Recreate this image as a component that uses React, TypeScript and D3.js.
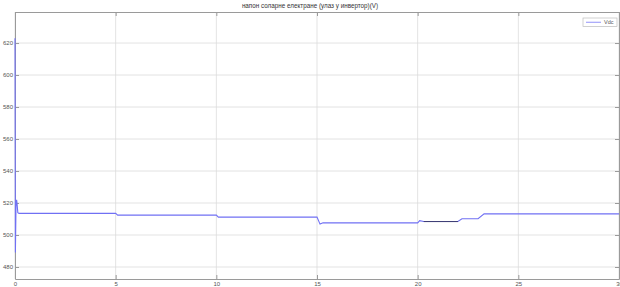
import React, { useEffect, useRef } from "react";
import * as d3 from "d3";

// time (s) and Vdc (V)
const times = [0, 0.02, 0.05, 0.08, 0.1, 0.14, 0.2, 5.0, 5.1, 10.0, 10.1, 15.0, 15.15, 15.3, 20.0, 20.1, 20.3, 22.0, 22.2, 23.0, 23.3, 30];
const vdc = [623, 489, 518, 522, 520, 514, 513.5, 513.5, 512.4, 512.4, 511.2, 511.2, 506.8, 507.6, 507.6, 509, 508.4, 508.4, 510.2, 510.2, 513.2, 513.2];
const xTicks = [0, 5, 10, 15, 20, 25, 30];
const yTicks = [480, 500, 520, 540, 560, 580, 600, 620];
const title = "напон соларне електране (улаз у инвертор)(V)";
const seriesName = "Vdc";

export default function App() {
  const ref = useRef<SVGSVGElement | null>(null);

  useEffect(() => {
    const width = 620;
    const height = 287;
    const margin = { top: 12, right: 1, bottom: 8, left: 15 };
    const svg = d3.select(ref.current);
    svg.selectAll("*").remove();

    const x = d3.scaleLinear().domain([0, 30]).range([margin.left, width - margin.right]);
    const y = d3.scaleLinear().domain([472.5, 639.4]).range([height - margin.bottom, margin.top]);
    const font = "Liberation Sans, Arial, sans-serif";

    // grid
    svg.append("g")
      .selectAll("line.gx")
      .data(xTicks)
      .join("line")
      .attr("x1", (d) => x(d)).attr("x2", (d) => x(d))
      .attr("y1", y.range()[1]).attr("y2", y.range()[0])
      .attr("stroke", "#dcdcdc").attr("stroke-width", 0.8);
    svg.append("g")
      .selectAll("line.gy")
      .data(yTicks)
      .join("line")
      .attr("x1", x.range()[0]).attr("x2", x.range()[1])
      .attr("y1", (d) => y(d)).attr("y2", (d) => y(d))
      .attr("stroke", "#dcdcdc").attr("stroke-width", 0.8);

    // axes on all sides (MATLAB box style)
    const styleAxis = (g: d3.Selection<SVGGElement, unknown, null, undefined>) => {
      g.select(".domain").attr("stroke", "#9a9a9a");
      g.selectAll(".tick line").attr("stroke", "#9a9a9a");
      g.selectAll(".tick text").attr("fill", "#555").attr("font-size", 6).attr("font-family", font);
    };
    svg.append("g")
      .attr("transform", `translate(0,${y.range()[0]})`)
      .call(d3.axisBottom(x).tickValues(xTicks).tickSize(-4).tickPadding(3).tickSizeOuter(0))
      .call(styleAxis);
    svg.append("g")
      .attr("transform", `translate(0,${y.range()[1]})`)
      .call(d3.axisTop(x).tickValues(xTicks).tickSize(-4).tickFormat(() => "").tickSizeOuter(0))
      .call(styleAxis);
    svg.append("g")
      .attr("transform", `translate(${x.range()[0]},0)`)
      .call(d3.axisLeft(y).tickValues(yTicks).tickSize(-4).tickPadding(2).tickSizeOuter(0))
      .call(styleAxis);
    svg.append("g")
      .attr("transform", `translate(${x.range()[1]},0)`)
      .call(d3.axisRight(y).tickValues(yTicks).tickSize(-4).tickFormat(() => "").tickSizeOuter(0))
      .call(styleAxis);

    const data = d3.zip(times, vdc);
    const line = d3.line<number[]>().x((d) => x(d[0])).y((d) => y(d[1]));

    svg.append("path")
      .datum(data)
      .attr("fill", "none")
      .attr("stroke", "#7070f4")
      .attr("stroke-width", 1.1)
      .attr("d", line);

    // darker stretch of the trace between 20 s and 22 s
    svg.append("path")
      .datum(data.filter((d) => d[0] >= 20.3 && d[0] <= 22))
      .attr("fill", "none")
      .attr("stroke", "#3c3c6e")
      .attr("stroke-width", 1)
      .attr("d", line);

    // title
    svg.append("text")
      .attr("x", 310).attr("y", 8)
      .attr("text-anchor", "middle")
      .attr("font-size", 6.3)
      .attr("font-family", font)
      .attr("fill", "#333")
      .text(title);

    // legend
    const lg = svg.append("g").attr("transform", "translate(583,18)");
    lg.append("rect").attr("width", 34).attr("height", 8.5)
      .attr("fill", "#fff").attr("stroke", "#bdbdbd").attr("stroke-width", 0.7);
    lg.append("line").attr("x1", 3).attr("x2", 18).attr("y1", 4.3).attr("y2", 4.3)
      .attr("stroke", "#a4a4fa").attr("stroke-width", 1.2);
    lg.append("text").attr("x", 21).attr("y", 6.3)
      .attr("font-size", 5.5).attr("font-family", font).attr("fill", "#555")
      .text(seriesName);
  }, []);

  return (
    <svg
      ref={ref}
      width={620}
      height={287}
      style={{ position: "absolute", left: 0, top: 0, background: "#fff" }}
    ></svg>
  );
}
